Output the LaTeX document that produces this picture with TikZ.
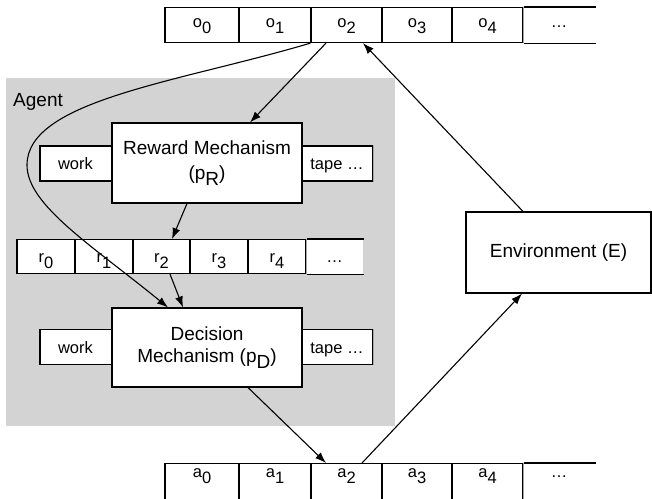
\documentclass[tikz,border=0pt]{standalone}
\usepackage{fontspec}
\setmainfont{Liberation Sans}
\usetikzlibrary{arrows.meta}
\definecolor{agentgray}{RGB}{211,211,211}
\definecolor{divgray}{RGB}{165,165,165}
\newcommand\lowsub[2]{#1\raisebox{-0.36em}{#2}}
\begin{document}
\begin{tikzpicture}[x=1pt,y=-1pt,
  lw/.style={line width=1.1pt},
  box/.style={draw, fill=white, lw, inner sep=0pt, align=center, font=\fontsize{19}{22}\selectfont},
  strip/.style={draw, fill=white, lw, minimum width=333pt, minimum height=35pt, inner sep=0pt},
  small/.style={font=\fontsize{16.5}{20}\selectfont, inner sep=0pt, anchor=base},
  cell/.style={draw, fill=white, lw, inner sep=0pt, minimum height=0pt, anchor=north, font=\fontsize{16.5}{20}\selectfont},
  ocell/.style={cell, text height=20pt, text depth=15pt},
  rcell/.style={cell, text height=23pt, text depth=11pt},
  acell/.style={cell, text height=14pt, text depth=30pt},
  dots/.style={draw=none},
  gline/.style={draw=divgray, lw},
  arr/.style={lw, -{Latex[length=11pt,width=8pt]}},
]
\useasboundingbox (0,0) rectangle (652,498);

% agent area
\fill[agentgray] (6,78) rectangle (395,426);
\node[anchor=base west, inner sep=0pt, font=\fontsize{19}{22}\selectfont] (agent) at (13,106) {Agent};

% observation tape
\node[ocell, minimum width=74pt] (o0) at (202,7) {\lowsub{o}{0}};
\node[ocell, minimum width=72pt] (o1) at (275,7) {\lowsub{o}{1}};
\node[ocell, minimum width=71pt] (o2) at (346.5,7) {\lowsub{o}{2}};
\node[ocell, minimum width=70pt] (o3) at (417,7) {\lowsub{o}{3}};
\node[ocell, minimum width=71pt] (o4) at (487.5,7) {\lowsub{o}{4}};
\node[ocell, dots, minimum width=72pt] (o5) at (559,7) {…};
\draw[lw] (o4.north east) -- (o5.north east) (o4.south east) -- (o5.south east);
\draw[gline] (o4.north east) -- (o4.south east);

% reward strip and mechanism
\node[strip] (rstrip) at (206.5,163.5) {};
\draw[gline] (rstrip.north east) -- (rstrip.south east);
\node[small] (rwork) at (75.5,169.5) {work};
\node[small] (rtape) at (337,169.5) {tape …};
\node[box, minimum width=190pt, minimum height=80pt] (rew) at (207,163) {Reward Mechanism\\[3pt](p\raisebox{-0.3em}{R})};

% reward tape
\node[rcell, minimum width=58pt] (r0) at (46,239) {\lowsub{r}{0}};
\node[rcell, minimum width=58pt] (r1) at (104,239) {\lowsub{r}{1}};
\node[rcell, minimum width=57pt] (r2) at (161.5,239) {\lowsub{r}{2}};
\node[rcell, minimum width=58pt] (r3) at (219,239) {\lowsub{r}{3}};
\node[rcell, minimum width=58pt] (r4) at (277,239) {\lowsub{r}{4}};
\node[rcell, dots, minimum width=57pt] (r5) at (334.5,239) {…};
\draw[lw] (r4.north east) -- (r5.north east) (r4.south east) -- (r5.south east);
\draw[gline] (r4.north east) -- (r4.south east);

% decision strip and mechanism
\node[strip] (dstrip) at (206.5,347) {};
\draw[gline] (dstrip.north east) -- (dstrip.south east);
\node[small] (dwork) at (75.5,353.5) {work};
\node[small] (dtape) at (337,353.5) {tape …};
\node[box, minimum width=190pt, minimum height=79pt] (dec) at (207,347.5) {Decision\\Mechanism (p\raisebox{-0.3em}{D})};

% environment
\node[box, minimum width=185pt, minimum height=81pt] (env) at (558.5,252.5) {Environment (E)};

% action tape
\node[acell, minimum width=74pt] (a0) at (202,463) {\lowsub{a}{0}};
\node[acell, minimum width=72pt] (a1) at (275,463) {\lowsub{a}{1}};
\node[acell, minimum width=71pt] (a2) at (346.5,463) {\lowsub{a}{2}};
\node[acell, minimum width=70pt] (a3) at (417,463) {\lowsub{a}{3}};
\node[acell, minimum width=71pt] (a4) at (487.5,463) {\lowsub{a}{4}};
\node[acell, dots, minimum width=72pt] (a5) at (559,463) {…};
\draw[lw] (a4.north east) -- (a5.north east) (a4.south east) -- (a5.south east);
\draw[gline] (a4.north east) -- (a4.south east);

% connectors
\draw[arr] ([xshift=-20.5pt]o2.south) -- ([xshift=43pt]rew.north);
\draw[arr] ([xshift=-20pt]rew.south) -- ([xshift=10.5pt]r2.north);
\draw[arr] ([xshift=8.5pt]r2.south) -- ([xshift=-24pt]dec.north);
\draw[arr] (o2.south west) .. controls (180,82) and (27,100) .. (27,165)
  .. controls (27,205) and (91.5,245) .. ([xshift=-39pt]dec.north);
\draw[arr] ([xshift=41pt]dec.south) -- ([xshift=-20.5pt]a2.north);
\draw[arr] ([xshift=15.5pt]a2.north) -- ([xshift=-36.5pt]env.south);
\draw[arr] ([xshift=-35.5pt]env.north) -- ([xshift=16.5pt]o2.south);
\end{tikzpicture}
\end{document}
